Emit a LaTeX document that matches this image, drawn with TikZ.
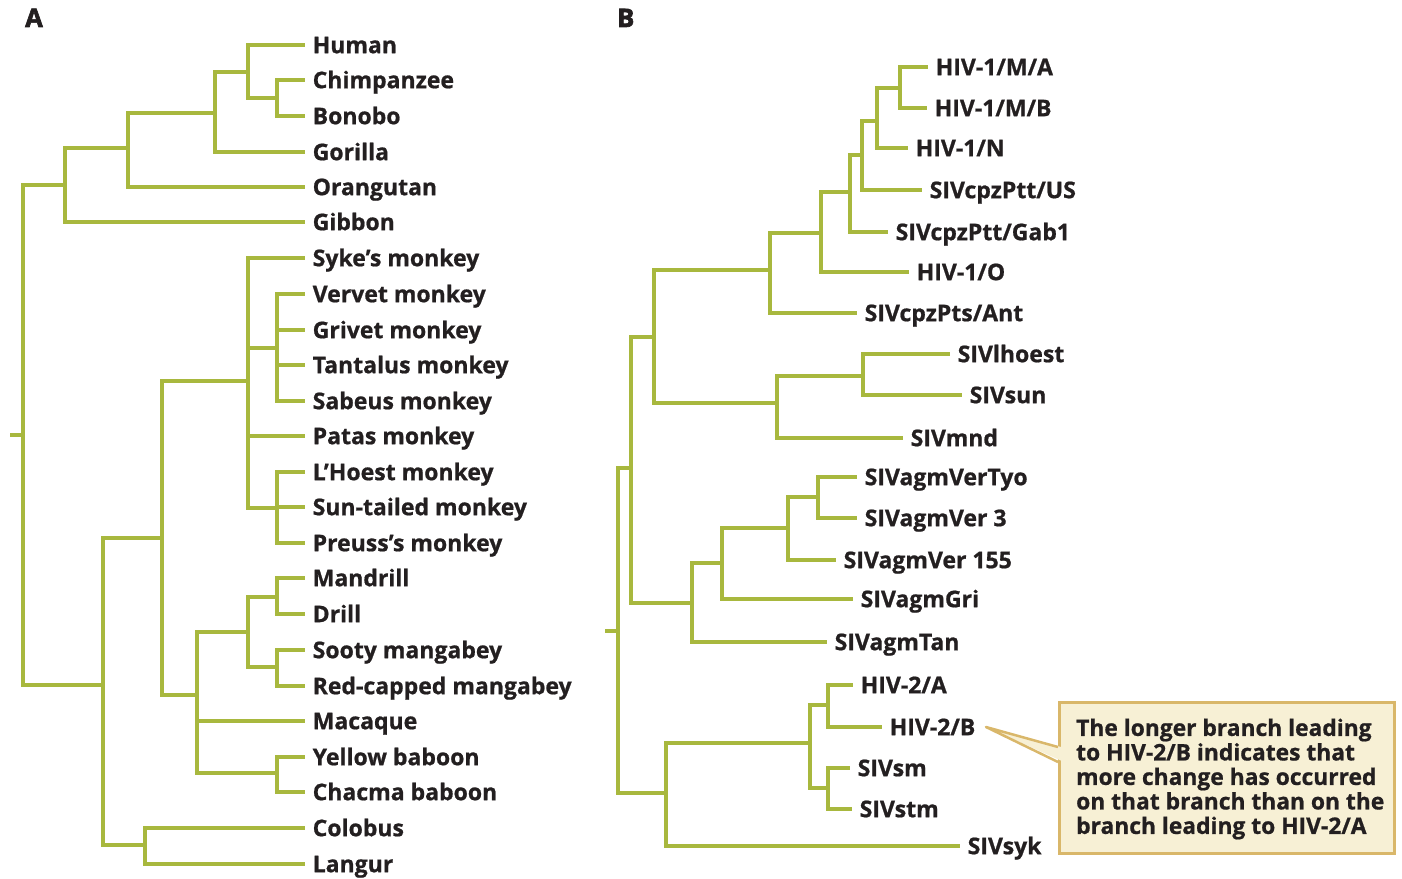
\documentclass[tikz,border=0pt]{standalone}
\usepackage{fontspec}
\setmainfont{Open Sans}[BoldFeatures={FakeBold=0.8}]
\newfontfamily\panelfont{Open Sans}[UprightFont=*-Bold,FakeBold=2.5]
\definecolor{branch}{RGB}{168,184,62}
\definecolor{ink}{RGB}{35,31,32}
\definecolor{notefill}{RGB}{247,240,213}
\definecolor{noteline}{RGB}{217,183,106}
\begin{document}
\begin{tikzpicture}[x=1pt,y=-1pt,
  br/.style={draw=branch,line width=4pt,line join=miter},
  lab/.style={anchor=west,inner xsep=7.5pt,inner ysep=0pt,text height=16.4pt,text depth=0pt,
    font=\fontsize{23}{26}\selectfont\bfseries,text=ink},
  panel/.style={anchor=base west,inner sep=0pt,font=\panelfont\fontsize{25.5}{28}\selectfont,text=ink},
  notebox/.style={draw=noteline,fill=notefill,line width=2.5pt,minimum width=335pt,minimum height=151pt,inner sep=0pt},
  notetext/.style={anchor=west,inner sep=0pt,align=left,text=ink,font=\fontsize{22.8}{24.5}\selectfont\bfseries}]
\useasboundingbox (0,0) rectangle (1402,878);

% panel letters
\node[panel] (pA) at (25,27) {A};
\node[panel] (pB) at (617,27) {B};

% ---------------- Tree A ----------------
\node[lab] (hum) at (305,45) {Human};
\node[lab] (chi) at (305,80) {Chimpanzee};
\node[lab] (bon) at (305,116) {Bonobo};
\node[lab] (gor) at (305,152) {Gorilla};
\node[lab] (ora) at (305,187) {Orangutan};
\node[lab] (gib) at (305,222) {Gibbon};
\node[lab] (syk) at (305,258) {Syke’s monkey};
\node[lab] (ver) at (305,294) {Vervet monkey};
\node[lab] (gri) at (305,330) {Grivet monkey};
\node[lab] (tan) at (305,365) {Tantalus monkey};
\node[lab] (sab) at (305,401) {Sabeus monkey};
\node[lab] (pat) at (305,436) {Patas monkey};
\node[lab] (lho) at (305,472) {L’Hoest monkey};
\node[lab] (sun) at (305,507) {Sun-tailed monkey};
\node[lab] (pre) at (305,543) {Preuss’s monkey};
\node[lab] (man) at (305,578) {Mandrill};
\node[lab] (dri) at (305,614) {Drill};
\node[lab] (soo) at (305,650) {Sooty mangabey};
\node[lab] (red) at (305,686) {Red-capped mangabey};
\node[lab] (mac) at (305,721) {Macaque};
\node[lab] (yel) at (305,757) {Yellow baboon};
\node[lab] (cha) at (305,792) {Chacma baboon};
\node[lab] (col) at (305,828) {Colobus};
\node[lab] (lan) at (305,864) {Langur};

\coordinate (cb) at (277,98);
\coordinate (hcb) at (248,72);
\coordinate (hg) at (215,113);
\coordinate (hgo) at (128,148);
\coordinate (ape) at (65,185);
\coordinate (vg) at (277,348);
\coordinate (ls) at (277,508);
\coordinate (cerc) at (248,381);
\coordinate (md) at (277,597);
\coordinate (sr) at (277,667);
\coordinate (mdsr) at (248,632);
\coordinate (yc) at (277,773);
\coordinate (pap) at (197,695);
\coordinate (cer) at (162,538);
\coordinate (cl) at (145,845);
\coordinate (owm) at (103,685);
\coordinate (rootA) at (23,435);
\coordinate (stubA) at (10,435);

\draw[br] (cb) |- (chi.west);
\draw[br] (cb) |- (bon.west);
\draw[br] (hcb) |- (hum.west);
\draw[br] (hcb) |- (cb);
\draw[br] (hg) |- (hcb);
\draw[br] (hg) |- (gor.west);
\draw[br] (hgo) |- (hg);
\draw[br] (hgo) |- (ora.west);
\draw[br] (ape) |- (hgo);
\draw[br] (ape) |- (gib.west);
\draw[br] (vg) |- (ver.west);
\draw[br] (vg) |- (gri.west);
\draw[br] (vg) |- (tan.west);
\draw[br] (vg) |- (sab.west);
\draw[br] (ls) |- (lho.west);
\draw[br] (ls) |- (sun.west);
\draw[br] (ls) |- (pre.west);
\draw[br] (cerc) |- (syk.west);
\draw[br] (cerc) |- (vg);
\draw[br] (cerc) |- (pat.west);
\draw[br] (cerc) |- (ls);
\draw[br] (md) |- (man.west);
\draw[br] (md) |- (dri.west);
\draw[br] (sr) |- (soo.west);
\draw[br] (sr) |- (red.west);
\draw[br] (mdsr) |- (md);
\draw[br] (mdsr) |- (sr);
\draw[br] (yc) |- (yel.west);
\draw[br] (yc) |- (cha.west);
\draw[br] (pap) |- (mdsr);
\draw[br] (pap) |- (mac.west);
\draw[br] (pap) |- (yc);
\draw[br] (cer) |- (cerc);
\draw[br] (cer) |- (pap);
\draw[br] (cl) |- (col.west);
\draw[br] (cl) |- (lan.west);
\draw[br] (owm) |- (cer);
\draw[br] (owm) |- (cl);
\draw[br] (rootA) |- (ape);
\draw[br] (rootA) |- (owm);
\draw[br] (stubA) -- (rootA);

% ---------------- Tree B ----------------
\node[lab] (ma) at (928,67) {HIV-1/M/A};
\node[lab] (mb) at (927,108) {HIV-1/M/B};
\node[lab] (n) at (908,148) {HIV-1/N};
\node[lab] (us) at (922,190) {SIVcpzPtt/US};
\node[lab] (gab) at (888,232) {SIVcpzPtt/Gab1};
\node[lab] (o) at (909,272) {HIV-1/O};
\node[lab] (ant) at (857,313) {SIVcpzPts/Ant};
\node[lab] (lh) at (950,354) {SIVlhoest};
\node[lab] (su) at (962,395) {SIVsun};
\node[lab] (mnd) at (903,438) {SIVmnd};
\node[lab] (tyo) at (857,477) {SIVagmVerTyo};
\node[lab] (v3) at (857,518) {SIVagmVer 3};
\node[lab] (v155) at (836,560) {SIVagmVer 155};
\node[lab] (grb) at (853,599) {SIVagmGri};
\node[lab] (tanb) at (827,642) {SIVagmTan};
\node[lab] (h2a) at (853,685) {HIV-2/A};
\node[lab] (h2b) at (882,727) {HIV-2/B};
\node[lab] (sm) at (850,768) {SIVsm};
\node[lab] (stm) at (852,809) {SIVstm};
\node[lab] (sk) at (960,846) {SIVsyk};

\coordinate (mab) at (900,88);
\coordinate (mn) at (877,121);
\coordinate (mnus) at (862,155);
\coordinate (p1) at (850,192);
\coordinate (p2) at (821,233);
\coordinate (cpz) at (770,270);
\coordinate (lsb) at (863,376);
\coordinate (lsm) at (777,403);
\coordinate (q) at (654,337);
\coordinate (t3) at (818,497);
\coordinate (t155) at (788,528);
\coordinate (tg) at (722,563);
\coordinate (agm) at (692,603);
\coordinate (r1) at (631,468);
\coordinate (h2) at (828,705);
\coordinate (smm) at (828,788);
\coordinate (h2s) at (810,743);
\coordinate (syg) at (666,793);
\coordinate (rootB) at (618,631);
\coordinate (stubB) at (605,631);

\draw[br] (mab) |- (ma.west);
\draw[br] (mab) |- (mb.west);
\draw[br] (mn) |- (mab);
\draw[br] (mn) |- (n.west);
\draw[br] (mnus) |- (mn);
\draw[br] (mnus) |- (us.west);
\draw[br] (p1) |- (mnus);
\draw[br] (p1) |- (gab.west);
\draw[br] (p2) |- (p1);
\draw[br] (p2) |- (o.west);
\draw[br] (cpz) |- (p2);
\draw[br] (cpz) |- (ant.west);
\draw[br] (lsb) |- (lh.west);
\draw[br] (lsb) |- (su.west);
\draw[br] (lsm) |- (lsb);
\draw[br] (lsm) |- (mnd.west);
\draw[br] (q) |- (cpz);
\draw[br] (q) |- (lsm);
\draw[br] (t3) |- (tyo.west);
\draw[br] (t3) |- (v3.west);
\draw[br] (t155) |- (t3);
\draw[br] (t155) |- (v155.west);
\draw[br] (tg) |- (t155);
\draw[br] (tg) |- (grb.west);
\draw[br] (agm) |- (tg);
\draw[br] (agm) |- (tanb.west);
\draw[br] (r1) |- (q);
\draw[br] (r1) |- (agm);
\draw[br] (h2) |- (h2a.west);
\draw[br] (h2) |- (h2b.west);
\draw[br] (smm) |- (sm.west);
\draw[br] (smm) |- (stm.west);
\draw[br] (h2s) |- (h2);
\draw[br] (h2s) |- (smm);
\draw[br] (syg) |- (h2s);
\draw[br] (syg) |- (sk.west);
\draw[br] (rootB) |- (r1);
\draw[br] (rootB) |- (syg);
\draw[br] (stubB) -- (rootB);

% ---------------- Callout ----------------
\node[notebox,anchor=north west] (note) at (1058,701) {};
\coordinate (tip) at (986,727);
\coordinate (pb1) at (1058,747);
\coordinate (pb2) at (1058,762);
\fill[notefill] (tip) -- (1063,747.5) -- (1063,761.5) -- cycle;
\draw[noteline,line width=2.5pt,line join=round] (pb1) -- (tip) -- (pb2);
\node[notetext] (nt) at (1076,779) {The longer branch leading\\to HIV-2/B indicates that\\more change has occurred\\on that branch than on the\\branch leading to HIV-2/A};
\end{tikzpicture}
\end{document}
